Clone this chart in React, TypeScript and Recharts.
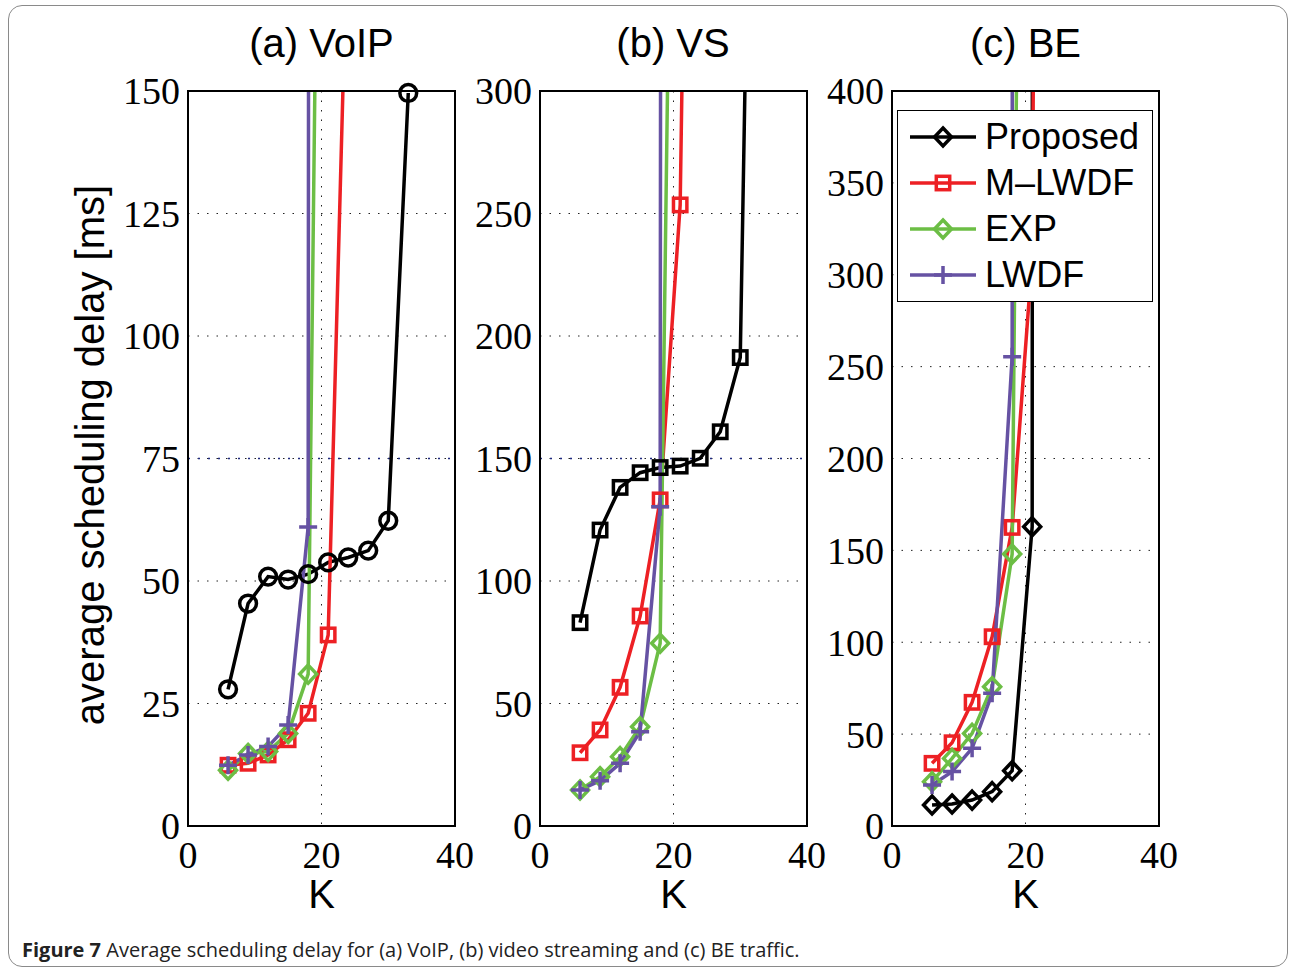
import {
    ComposedChart,
    Line,
    Scatter,
    XAxis,
    YAxis,
    CartesianGrid,
    ReferenceLine,
    ReferenceArea,
    Legend,
} from 'recharts'

// K values shared by every series (a series may stop earlier)
const kValues = [6, 9, 12, 15, 18, 21, 24, 27, 30, 33]
const kTicks = [0, 20, 40]

const seriesNames = ['Proposed', 'M\u2013LWDF', 'EXP', 'LWDF']
const seriesColors = ['#000000', '#ed2024', '#6cbe45', '#6652a3']
const panelTitles = ['(a) VoIP', '(b) VS', '(c) BE']

const voipTicks = [0, 25, 50, 75, 100, 125, 150]
const vsTicks = [0, 50, 100, 150, 200, 250, 300]
const beTicks = [0, 50, 100, 150, 200, 250, 300, 350, 400]

// (a) VoIP, delay in ms
const voipProposed = [27.9, 45.4, 50.9, 50.3, 51.4, 53.8, 54.8, 56.2, 62.3, 149.6]
const voipMLWDF = [12.4, 12.8, 14.5, 17.6, 23.0, 39.0, 190]
const voipEXP = [11.4, 14.8, 15.2, 18.9, 31.0, 388]
const voipLWDF = [12.4, 14.5, 16.2, 20.6, 61.0, 5000]

// (b) video streaming
const vsProposed = [83.0, 120.8, 138.2, 144.2, 146.3, 146.9, 150.1, 160.9, 191.2, 660]
const vsMLWDF = [29.9, 39.2, 56.6, 85.7, 133.1, 253.5, 800]
const vsEXP = [14.7, 20.1, 28.3, 40.5, 74.6, 690]
const vsLWDF = [14.7, 18.5, 25.6, 38.5, 130.3, 9000]

// (c) best effort
const beProposed = [11.4, 12.0, 14.1, 18.7, 30.1, 162.9, 30000]
const beMLWDF = [34.1, 45.3, 67.3, 103.0, 162.5, 309, 2000]
const beEXP = [24.1, 36.8, 50.4, 75.8, 148.0, 1330]
const beLWDF = [22.3, 29.6, 42.3, 72.2, 255.4, 30000]

const qosLines = [75, 150, null]

const SERIF = '"Liberation Serif", "Times New Roman", serif'
const SANS = '"Liberation Sans", Arial, Helvetica, sans-serif'
const AXIS_W = 110
const PLOT_W = 267
const RIGHT_PAD = 40

type Kind = 'circle' | 'square' | 'diamond' | 'plus'

const panels = [
    { title: panelTitles[0], plotLeft: 188, yTicks: voipTicks, qos: qosLines[0], proposedKind: 'circle' as Kind, values: [voipProposed, voipMLWDF, voipEXP, voipLWDF] },
    { title: panelTitles[1], plotLeft: 539.5, yTicks: vsTicks, qos: qosLines[1], proposedKind: 'square' as Kind, values: [vsProposed, vsMLWDF, vsEXP, vsLWDF] },
    { title: panelTitles[2], plotLeft: 892, yTicks: beTicks, qos: qosLines[2], proposedKind: 'diamond' as Kind, values: [beProposed, beMLWDF, beEXP, beLWDF] },
]

function Marker({ cx, cy, kind, color }: { cx?: number; cy?: number; kind: Kind; color: string }) {
    if (cx == null || cy == null) return null
    const common = { fill: 'none', stroke: color, strokeWidth: 3.5 }
    if (kind === 'circle') return <circle cx={cx} cy={cy} r={8.4} {...common} />
    if (kind === 'square') return <rect x={cx - 6.7} y={cy - 6.7} width={13.4} height={13.4} {...common} />
    if (kind === 'diamond')
        return <polygon points={`${cx},${cy - 9} ${cx + 8.5},${cy} ${cx},${cy + 9} ${cx - 8.5},${cy}`} {...common} />
    return <path d={`M${cx - 9},${cy}H${cx + 9}M${cx},${cy - 9}V${cy + 9}`} {...common} />
}

function LegendBox() {
    const kinds: Kind[] = ['diamond', 'square', 'diamond', 'plus']
    return (
        <div
            style={{
                width: 256,
                height: 192,
                boxSizing: 'border-box',
                border: '1.5px solid #000',
                background: '#fff',
                padding: '3px 0 0 12px',
            }}
        >
            {seriesNames.map((name, i) => (
                <div key={name} style={{ display: 'flex', alignItems: 'center', height: 46 }}>
                    <svg width={66} height={30}>
                        <line x1={0} x2={66} y1={15} y2={15} stroke={seriesColors[i]} strokeWidth={3.5} />
                        <Marker cx={33} cy={15} kind={kinds[i]} color={seriesColors[i]} />
                    </svg>
                    <span style={{ marginLeft: 9, fontFamily: SANS, fontSize: 36, color: '#000', lineHeight: '46px' }}>
                        {name}
                    </span>
                </div>
            ))}
        </div>
    )
}

function Panel({ idx }: { idx: number }) {
    const p = panels[idx]
    const yMax = p.yTicks[p.yTicks.length - 1]
    const chartLeft = p.plotLeft - AXIS_W
    const frame = { stroke: '#000', strokeWidth: 2 }
    const inTick = { stroke: '#000', strokeWidth: 1.5 }

    return (
        <>
            <div
                style={{
                    position: 'absolute',
                    left: p.plotLeft,
                    top: 20,
                    width: PLOT_W,
                    textAlign: 'center',
                    fontFamily: SANS,
                    fontSize: 40,
                    lineHeight: '46px',
                    color: '#000',
                }}
            >
                {p.title}
            </div>
            <div style={{ position: 'absolute', left: chartLeft, top: 0 }}>
                <ComposedChart
                    width={AXIS_W + PLOT_W + RIGHT_PAD}
                    height={970}
                    margin={{ top: 91, right: RIGHT_PAD, bottom: 54, left: 0 }}
                >
                    <CartesianGrid yAxisId='main' stroke='#222' strokeDasharray='1.5 8' strokeWidth={1} />
                    <XAxis
                        dataKey='k'
                        type='number'
                        domain={[0, 40]}
                        ticks={kTicks}
                        interval={0}
                        height={90}
                        tickLine={false}
                        tickSize={0}
                        tickMargin={15}
                        axisLine={frame}
                        tick={{ fill: '#000', fontSize: 38, fontFamily: SERIF }}
                        label={{ value: 'K', position: 'insideBottom', offset: 8, style: { fill: '#000', fontSize: 40, fontFamily: SANS } }}
                    />
                    <XAxis xAxisId='top' orientation='top' mirror type='number' domain={[0, 40]} ticks={kTicks} allowDataOverflow tick={false} tickSize={7} tickLine={inTick} axisLine={frame} />
                    <XAxis xAxisId='bin' orientation='bottom' mirror type='number' domain={[0, 40]} ticks={kTicks} allowDataOverflow tick={false} tickSize={7} tickLine={inTick} axisLine={frame} />
                    <YAxis
                        yAxisId='main'
                        dataKey='v'
                        type='number'
                        domain={[0, yMax]}
                        ticks={p.yTicks}
                        interval={0}
                        allowDataOverflow
                        width={AXIS_W}
                        tickLine={false}
                        tickSize={0}
                        tickMargin={8}
                        axisLine={frame}
                        tick={{ fill: '#000', fontSize: 38, fontFamily: SERIF }}
                    />
                    <YAxis yAxisId='lin' orientation='left' mirror type='number' domain={[0, yMax]} ticks={p.yTicks} allowDataOverflow tick={false} tickSize={7} tickLine={inTick} axisLine={frame} />
                    <YAxis yAxisId='rin' orientation='right' mirror type='number' domain={[0, yMax]} ticks={p.yTicks} allowDataOverflow tick={false} tickSize={7} tickLine={inTick} axisLine={frame} />
                    <YAxis yAxisId='mk' hide dataKey='v' type='number' domain={[0, yMax]} ticks={p.yTicks} />

                    {/* box around the axes */}
                    <ReferenceArea yAxisId='main' x1={0} x2={40} y1={0} y2={yMax} fill='none' stroke='#000' strokeWidth={2} />

                    {p.qos != null && (
                        <ReferenceLine yAxisId='main' y={p.qos} stroke='#1f2a80' strokeWidth={1.5} strokeDasharray='2 8' />
                    )}

                    {p.values.map((vals, i) => {
                        const data = vals.map((v, j) => ({ k: kValues[j], v }))
                        const kind: Kind = i === 0 ? p.proposedKind : i === 1 ? 'square' : i === 2 ? 'diamond' : 'plus'
                        const color = seriesColors[i]
                        return [
                            <Line
                                key={`l${i}`}
                                yAxisId='main'
                                data={data}
                                dataKey='v'
                                name={seriesNames[i]}
                                type='linear'
                                stroke={color}
                                strokeWidth={3.5}
                                dot={false}
                                activeDot={false}
                                isAnimationActive={false}
                            />,
                            <Scatter
                                key={`s${i}`}
                                yAxisId='mk'
                                data={data.filter((d) => d.v <= yMax)}
                                dataKey='v'
                                isAnimationActive={false}
                                shape={(props: any) => <Marker cx={props.cx} cy={props.cy} kind={kind} color={color} />}
                            />,
                        ]
                    })}

                    {idx === 2 && (
                        <Legend
                            layout='vertical'
                            align='center'
                            verticalAlign='middle'
                            content={() => <LegendBox />}
                            wrapperStyle={{ left: 897 - chartLeft, top: 110, width: 256, height: 192 }}
                        />
                    )}
                </ComposedChart>
            </div>
        </>
    )
}

export default function App() {
    return (
        <div style={{ position: 'absolute', left: 0, top: 0, width: 1291, height: 970, background: '#fff', overflow: 'hidden' }}>
            <div
                style={{
                    position: 'absolute',
                    left: 8,
                    top: 5,
                    width: 1280,
                    height: 962,
                    border: '1.5px solid #8a8a8a',
                    borderRadius: 14,
                    boxSizing: 'border-box',
                }}
            />
            {panels.map((_, i) => (
                <Panel key={i} idx={i} />
            ))}
            <div
                style={{
                    position: 'absolute',
                    left: 90 - 300,
                    top: 455 - 23,
                    width: 600,
                    height: 46,
                    lineHeight: '46px',
                    textAlign: 'center',
                    transform: 'rotate(-90deg)',
                    fontFamily: SANS,
                    fontSize: 40,
                    color: '#000',
                }}
            >
                average scheduling delay [ms]
            </div>
            <div
                style={{
                    position: 'absolute',
                    left: 22,
                    top: 937,
                    fontFamily: '"Open Sans", sans-serif',
                    fontSize: 20,
                    lineHeight: '26px',
                    color: '#222',
                    whiteSpace: 'nowrap',
                }}
            >
                <b>Figure 7</b> Average scheduling delay for (a) VoIP, (b) video streaming and (c) BE traffic.
            </div>
        </div>
    )
}
